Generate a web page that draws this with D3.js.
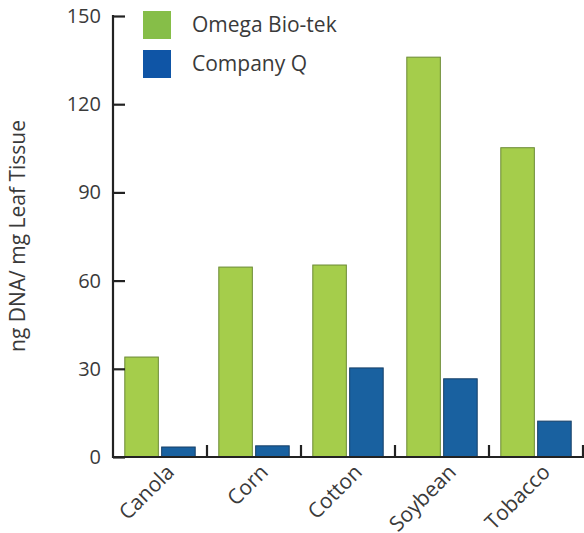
<!DOCTYPE html>
<html>
<head>
<meta charset="utf-8">
<script src="https://cdn.jsdelivr.net/npm/d3@7"></script>
<style>
    body { margin: 0; background: #fff; }
    text { font-family: "Open Sans", sans-serif; fill: #3a3a3a; }
</style>
</head>
<body>
<div id="wrapper"></div>
<script>
// data
const crops = ["Canola", "Corn", "Cotton", "Soybean", "Tobacco"]
const omegaValues = [34, 64.6, 65.3, 136, 105.2]
const companyQValues = [3.4, 3.8, 30.3, 26.6, 12.2]
const seriesNames = ["Omega Bio-tek", "Company Q"]
const yTicks = [0, 30, 60, 90, 120, 150]

// chart dimensions
let dimensions = {
    width: 584,
    height: 533,
    margin: { top: 16, right: 1, bottom: 76, left: 113 }
}
dimensions.boundedWidth = dimensions.width - dimensions.margin.left - dimensions.margin.right
dimensions.boundedHeight = dimensions.height - dimensions.margin.top - dimensions.margin.bottom

const wrapper = d3.select("#wrapper")
    .append("svg")
    .attr("width", dimensions.width)
    .attr("height", dimensions.height)

const bounds = wrapper.append("g")
    .attr("transform", `translate(${dimensions.margin.left},${dimensions.margin.top})`)

// scales
const yScale = d3.scaleLinear()
    .domain([0, 150])
    .range([dimensions.boundedHeight, 0])

const xScale = d3.scaleBand()
    .domain(crops)
    .range([0, dimensions.boundedWidth])

const innerScale = d3.scaleBand()
    .domain(seriesNames)
    .range([0, xScale.bandwidth()])
    .paddingOuter(0.32)
    .paddingInner(0.09)

const fills = ["#a5cd4b", "#1961a0"]
const strokes = ["#6b8a35", "#163f66"]
const legendFills = ["#86be48", "#0f55a6"]

// bars
const seriesData = [omegaValues, companyQValues]
seriesData.forEach((values, i) => {
    bounds.append("g")
        .selectAll("rect")
        .data(values)
        .enter().append("rect")
        .attr("x", (d, j) => xScale(crops[j]) + innerScale(seriesNames[i]))
        .attr("y", d => yScale(d))
        .attr("width", innerScale.bandwidth())
        .attr("height", d => dimensions.boundedHeight - yScale(d))
        .attr("fill", fills[i])
        .attr("stroke", strokes[i])
        .attr("stroke-width", 1)
})

// y axis
const yAxis = bounds.append("g")
    .call(d3.axisLeft(yScale).tickValues(yTicks).tickSize(-12).tickPadding(12))
yAxis.select(".domain").remove()
yAxis.selectAll(".tick line").attr("stroke", "#222").attr("stroke-width", 2.2)
yAxis.selectAll(".tick text").style("font-size", "20px").style("fill", "#3a3a3a")
bounds.append("line")
    .attr("x1", 0).attr("x2", 0)
    .attr("y1", -1).attr("y2", dimensions.boundedHeight + 1)
    .attr("stroke", "#222").attr("stroke-width", 2.2)

// x axis
const xAxis = bounds.append("g")
    .attr("transform", `translate(0,${dimensions.boundedHeight})`)
bounds.append("line")
    .attr("x1", 0).attr("x2", dimensions.boundedWidth + 1)
    .attr("y1", dimensions.boundedHeight).attr("y2", dimensions.boundedHeight)
    .attr("stroke", "#222").attr("stroke-width", 2.2)
xAxis.selectAll("line.sep")
    .data(crops)
    .enter().append("line")
    .attr("x1", d => xScale(d) + xScale.bandwidth())
    .attr("x2", d => xScale(d) + xScale.bandwidth())
    .attr("y1", 0).attr("y2", -12)
    .attr("stroke", "#222").attr("stroke-width", 2.2)
xAxis.selectAll("text")
    .data(crops)
    .enter().append("text")
    .attr("transform", d => `translate(${xScale(d) + xScale.bandwidth() / 2 + 5},${6}) rotate(-45)`)
    .attr("text-anchor", "end")
    .attr("dy", "0.7em")
    .style("font-size", "21px")
    .text(d => d)

// y label
wrapper.append("text")
    .attr("transform", `translate(25,${236}) rotate(-90)`)
    .attr("text-anchor", "middle")
    .style("font-size", "21px")
    .text("ng DNA/ mg Leaf Tissue")

// legend
const legend = wrapper.append("g")
    .attr("transform", "translate(143,11)")
seriesNames.forEach((name, i) => {
    const row = legend.append("g").attr("transform", `translate(0,${i * 39})`)
    row.append("rect")
        .attr("width", 28).attr("height", 28)
        .attr("fill", legendFills[i])
    row.append("text")
        .attr("x", 49).attr("y", 14)
        .attr("dy", "0.35em")
        .style("font-size", "21px")
        .text(name)
})
</script>
</body>
</html>
